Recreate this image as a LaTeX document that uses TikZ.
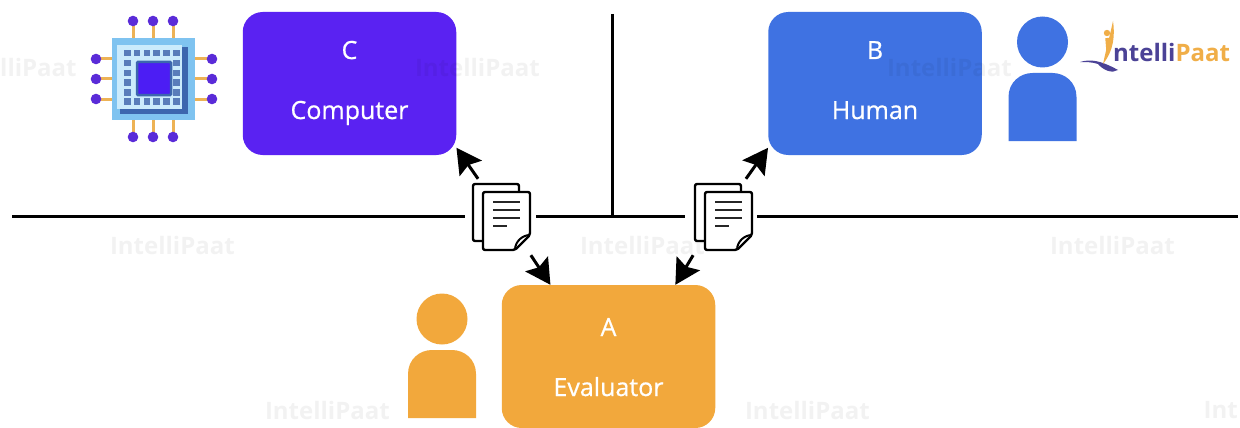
\documentclass[tikz,border=0pt]{standalone}
\usepackage{fontspec}
\setmainfont{Open Sans}
\newfontfamily\boxfont[FakeBold=0.7]{Open Sans}
\usetikzlibrary{arrows.meta,calc}
\definecolor{cC}{HTML}{5A22F2}
\definecolor{cB}{HTML}{3F72E2}
\definecolor{cA}{HTML}{F2A83C}
\definecolor{pincol}{HTML}{EDB255}
\definecolor{pindot}{HTML}{5A2BD8}
\definecolor{chipA}{HTML}{7FC3F0}
\definecolor{chipB}{HTML}{CBEBFC}
\definecolor{chipD}{HTML}{3C66AE}
\definecolor{logoP}{HTML}{4B4296}
\definecolor{logoO}{HTML}{F0AE48}
\tikzset{
  x=1pt,y=-1pt,
  box/.style={rounded corners=20pt,minimum width=213.5pt,minimum height=143pt,inner sep=0pt},
  boxtext/.style={text=white,font=\boxfont\fontsize{25}{29}\selectfont,inner sep=0pt,anchor=base},
  rule/.style={line width=3pt,black},
  arr/.style={line width=3pt,black,-{Stealth[length=25pt,width=27pt,inset=4pt]}},
  docslot/.style={minimum width=60pt,minimum height=76pt,inner sep=0pt},
  sheet/.style={line width=2.4pt,black,fill=white,line join=round,rounded corners=2pt},
  textline/.style={line width=2.4pt,black!85},
  wm/.style={text=black,text opacity=0.05,font=\bfseries\fontsize{24}{28}\selectfont,inner sep=0pt},
  pinline/.style={line width=3pt,pincol},
  pindotst/.style={fill=pindot},
  pad/.style={fill=chipD!85!white},
  pics/docicon/.style={code={
    \draw[sheet] (-28,-33) -- (18,-33) -- (18,24) -- (-28,24) -- cycle;
    \draw[sheet] (-18,-25) -- (29,-25) -- (29,18) -- (14,33) -- (-18,33) -- cycle;
    \draw[line width=2pt,black,line join=round] (29,18) .. controls (22,18) and (14,24) .. (14,33);
    \draw[textline] (-8,-15) -- (19,-15);
    \draw[textline] (-8,-7) -- (19,-7);
    \draw[textline] (-8,1) -- (19,1);
    \draw[textline] (-8,9) -- (6,9);
  }},
  pics/person/.style={code={
    \fill (0,0) circle[radius=25.5];
    \fill (-34,99) -- (-34,55) .. controls (-34,40) and (-22,31) .. (-10,31) -- (10,31) .. controls (22,31) and (34,40) .. (34,55) -- (34,99) -- cycle;
  }}
}
\begin{document}
\begin{tikzpicture}
\useasboundingbox (0,0) rectangle (1240,428);
\fill[white] (0,0) rectangle (1240,428);
% rules
\coordinate (hA) at (12,216);
\coordinate (hB) at (465,216);
\coordinate (hC) at (536,216);
\coordinate (hD) at (685,216);
\coordinate (hE) at (757,216);
\coordinate (hF) at (1238,216);
\coordinate (vT) at (612,14);
\coordinate (vB) at (612,216);
\draw[rule] (hA) -- (hB);
\draw[rule] (hC) -- (hD);
\draw[rule] (hE) -- (hF);
\draw[rule] (vT) -- (vB);
% boxes
\node[box,fill=cC] (boxC) at (349.5,83.5) {};
\node[box,fill=cB] (boxB) at (875,83.5) {};
\node[box,fill=cA] (boxA) at (608.5,356.5) {};
% watermarks
\foreach \wx/\wy in {540/68,1012/68,235/245,705/245,1175/245,390/410,870/410}
  \node[wm,anchor=east] at (\wx,\wy) {IntelliPaat};
\node[wm,anchor=west] (wmL) at (0,68) {lliPaat};
\node[wm,anchor=east] (wmR) at (1238,410) {Int};
% box texts
\node[boxtext] (tC) at (349.5,59) {C};
\node[boxtext] (tCn) at (349.5,119) {Computer};
\node[boxtext] (tB) at (875,59) {B};
\node[boxtext] (tBn) at (875,119) {Human};
\node[boxtext] (tA) at (608.5,336) {A};
\node[boxtext] (tAn) at (608.5,396) {Evaluator};
% documents
\node[docslot] (docC) at (501,217) {};
\node[docslot] (docB) at (723,217) {};
\pic at (docC) {docicon};
\pic at (docB) {docicon};
% arrows
\draw[arr] (docC.121) -- (boxC.-31);
\draw[arr] (docC.-52) -- (boxA.129);
\draw[arr] (docB.59) -- (boxB.211);
\draw[arr] (docB.232) -- (boxA.47);
% people
\pic[cA] at (442,319) {person};
\pic[cB] at (1042.5,42) {person};
% chip
\begin{scope}[shift={(153,83)}]
  \foreach \p in {-20,0,20}{
    \draw[pinline] (\p,-62) -- (\p,-42);
    \draw[pinline] (\p,54) -- (\p,34);
    \draw[pinline] (-57,\p-4) -- (-40,\p-4);
    \draw[pinline] (59,\p-4) -- (42,\p-4);
    \fill[pindotst] (\p,-62) circle[radius=5.3];
    \fill[pindotst] (\p,54) circle[radius=5.3];
    \fill[pindotst] (-57,\p-4) circle[radius=5.3];
    \fill[pindotst] (59,\p-4) circle[radius=5.3];
  }
  \fill[chipA] (-41,-45) rectangle (42,37);
  \fill[chipD] (-33,-36) rectangle (35,31);
  \fill[chipB] (-36,-38) rectangle (29,26);
  \foreach \q in {0,...,5}{
    \fill[pad] (-29+\q*9.8,-33) rectangle ++(6.5,6.5);
    \fill[pad] (-29+\q*9.8,15) rectangle ++(6.5,6.5);
  }
  \foreach \q in {1,...,4}{
    \fill[pad] (-29,-33+\q*9.8) rectangle ++(6.5,6.5);
    \fill[pad] (20,-33+\q*9.8) rectangle ++(6.5,6.5);
  }
  \fill[cC!85!blue,draw=chipD,line width=2.5pt,rounded corners=1pt] (-16,-21) rectangle (18,12);
\end{scope}
% logo
\fill[logoP] (1080,62) .. controls (1090,59) and (1100,60) .. (1118,70) .. controls (1112,74) and (1103,70) .. (1098,64) .. controls (1092,62) and (1086,62) .. (1080,62) -- cycle;
\fill[logoO] (1113,21) .. controls (1115,35) and (1114,50) .. (1103,64) .. controls (1106,50) and (1110,35) .. (1113,21) -- cycle;
\fill[logoO] (1107,33) circle[radius=3.2];
\draw[logoO,line width=3.5pt] (1107,38) -- (1108,50);
\node[anchor=base west,inner sep=0pt,font=\bfseries\fontsize{24}{28}\selectfont] (logo) at (1113,62) {\textcolor{logoP}{ntelli}\textcolor{logoO}{Paat}};
\end{tikzpicture}
\end{document}
